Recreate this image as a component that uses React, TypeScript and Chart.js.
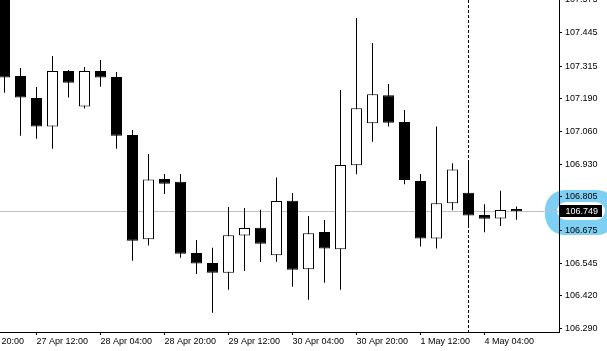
import React, { useEffect, useRef } from 'react';
import { Chart, registerables } from 'chart.js';

Chart.register(...registerables);

// H4 candles, oldest first (index 0 = leftmost, partly cut off)
const opens = [
  107.66, 107.276, 107.19, 107.079, 107.296, 107.157, 107.296, 107.272, 107.046, 106.64,
  106.875, 106.864, 106.586, 106.547, 106.509, 106.654, 106.685, 106.577, 106.79, 106.523,
  106.668, 106.601, 106.928, 107.092, 107.201, 107.097, 106.867, 106.643, 106.78, 106.821,
  106.734, 106.721, 106.758,
];
const highs = [
  107.7, 107.307, 107.233, 107.354, 107.3, 107.311, 107.339, 107.292, 107.066, 106.972,
  106.894, 106.894, 106.637, 106.607, 106.765, 106.762, 106.755, 106.88, 106.82, 106.73,
  106.715, 107.222, 107.502, 107.405, 107.245, 107.144, 106.894, 107.079, 106.936, 106.942,
  106.776, 106.829, 106.767,
];
const lows = [
  107.211, 107.043, 107.032, 106.993, 107.192, 107.149, 107.234, 106.993, 106.556, 106.615,
  106.816, 106.568, 106.504, 106.353, 106.443, 106.516, 106.551, 106.552, 106.455, 106.404,
  106.47, 106.443, 106.893, 107.02, 107.079, 106.854, 106.611, 106.604, 106.753, 106.69,
  106.667, 106.691, 106.716,
];
const closes = [
  107.27, 107.192, 107.079, 107.296, 107.25, 107.296, 107.27, 107.043, 106.634, 106.873,
  106.856, 106.583, 106.545, 106.509, 106.655, 106.684, 106.622, 106.789, 106.521, 106.663,
  106.604, 106.929, 107.15, 107.205, 107.094, 106.871, 106.643, 106.78, 106.912, 106.732,
  106.72, 106.754, 106.749,
];

const xTickIndex = [-2, 2, 6, 10, 14, 18, 22, 26, 30];
const xTickLabels = [
  '26 Apr 20:00', '27 Apr 12:00', '28 Apr 04:00', '28 Apr 20:00', '29 Apr 12:00',
  '30 Apr 04:00', '30 Apr 20:00', '1 May 12:00', '4 May 04:00',
];
const yTickValues = [
  107.575, 107.445, 107.315, 107.19, 107.06, 106.93, 106.805, 106.675, 106.545, 106.42, 106.29,
];
const lastPrice = 106.749;
const markerIndex = 29;

const overlay = {
  id: 'overlay',
  beforeDraw(chart: any) {
    const ctx = chart.ctx;
    ctx.save();
    ctx.fillStyle = '#7dcff4';
    ctx.beginPath();
    (ctx as any).roundRect(545, 190, 72, 45, 20);
    ctx.fill();
    ctx.fillStyle = '#ffffff';
    ctx.beginPath();
    (ctx as any).roundRect(557, 202, 48, 18, 9);
    ctx.fill();
    ctx.restore();
  },
  beforeDatasetsDraw(chart: any) {
    const ctx = chart.ctx;
    const y = Math.round(chart.scales.y.getPixelForValue(lastPrice)) + 0.5;
    const a = chart.chartArea;
    ctx.save();
    ctx.strokeStyle = '#c0c0c0';
    ctx.lineWidth = 1;
    ctx.beginPath();
    ctx.moveTo(a.left, y);
    ctx.lineTo(a.right, y);
    ctx.stroke();
    ctx.restore();
  },
  afterDraw(chart: any) {
    const ctx = chart.ctx;
    const a = chart.chartArea;
    const x = Math.round(chart.scales.x.getPixelForValue(markerIndex)) - 0.5;
    ctx.save();
    ctx.strokeStyle = '#000';
    ctx.lineWidth = 1;
    ctx.setLineDash([3, 2]);
    ctx.beginPath();
    ctx.moveTo(x, a.top);
    ctx.lineTo(x, a.bottom);
    ctx.stroke();
    ctx.setLineDash([]);
    const y = Math.round(chart.scales.y.getPixelForValue(lastPrice));
    ctx.fillStyle = '#000';
    ctx.fillRect(a.right + 1, y - 6, 42, 12);
    ctx.fillStyle = '#fff';
    ctx.font = '9px "Liberation Sans"';
    ctx.textBaseline = 'middle';
    ctx.textAlign = 'left';
    ctx.fillText(lastPrice.toFixed(3), a.right + 6.5, y + 0.5);
    ctx.restore();
  },
};

export default function App() {
  const ref = useRef<HTMLCanvasElement | null>(null);
  useEffect(() => {
    document.body.style.margin = '0';
    const canvas = ref.current!;
    const bodyData = opens.map((o, i) => ({ x: i, y: [o, closes[i]] }));
    const wickData = lows.map((l, i) => ({ x: i, y: [l, highs[i]] }));
    const bodyColors = opens.map((o, i) => (closes[i] > o ? '#ffffff' : '#000000'));
    const chart = new Chart(canvas, {
      type: 'bar',
      data: {
        datasets: [
          {
            data: bodyData as any,
            backgroundColor: bodyColors,
            borderColor: '#000',
            borderWidth: 1,
            borderSkipped: false,
            barThickness: 11,
            grouped: false,
            inflateAmount: 0,
            order: 0,
          } as any,
          {
            data: wickData as any,
            backgroundColor: '#000',
            borderWidth: 0,
            barThickness: 1,
            grouped: false,
            inflateAmount: 0,
            order: 1,
          } as any,
        ],
      },
      plugins: [overlay],
      options: {
        responsive: false,
        animation: false,
        events: [],
        layout: { padding: 0, autoPadding: false },
        plugins: { legend: { display: false }, tooltip: { enabled: false } },
        font: { family: 'Liberation Sans', size: 9 },
        scales: {
          x: {
            type: 'linear',
            position: 'bottom',
            offset: false,
            bounds: 'data',
            min: -0.28125,
            max: 34.65625,
            grid: { display: true, offset: false, drawOnChartArea: false, drawTicks: true, tickLength: 3, color: '#000' },
            border: { display: true, color: '#000', width: 1 },
            ticks: {
              autoSkip: false,
              maxRotation: 0,
              minRotation: 0,
              align: 'start',
              padding: 1,
              color: '#000',
              font: { family: 'Liberation Sans', size: 9 },
              callback: (v: any) => {
                const k = xTickIndex.indexOf(Number(v));
                return k >= 0 ? xTickLabels[k] : '';
              },
            },
            afterBuildTicks: (s: any) => {
              s.ticks = xTickIndex.map((v) => ({ value: v }));
            },
            afterFit: (s: any) => {
              s.height = 19;
              s.paddingLeft = 0;
              s.paddingRight = 0;
            },
          } as any,
          y: {
            type: 'linear',
            position: 'right',
            offset: false,
            min: 106.2781,
            max: 107.5725,
            grid: { display: true, drawOnChartArea: false, drawTicks: true, tickLength: 3, color: '#000' },
            border: { display: true, color: '#000', width: 1 },
            ticks: {
              padding: 3,
              color: '#000',
              font: { family: 'Liberation Sans', size: 9 },
              callback: (v: any) => Number(v).toFixed(3),
            },
            afterBuildTicks: (s: any) => {
              s.ticks = yTickValues.map((v) => ({ value: v }));
            },
            afterFit: (s: any) => {
              s.width = 48;
              s.paddingTop = 0;
              s.paddingBottom = 0;
            },
          } as any,
        },
      },
    });
    return () => chart.destroy();
  }, []);
  return (
    <div style={{ position: 'absolute', left: 0, top: 0, width: 607, height: 351 }}>
      <canvas ref={ref} width={607} height={351} style={{ display: 'block' }} />
    </div>
  );
}
